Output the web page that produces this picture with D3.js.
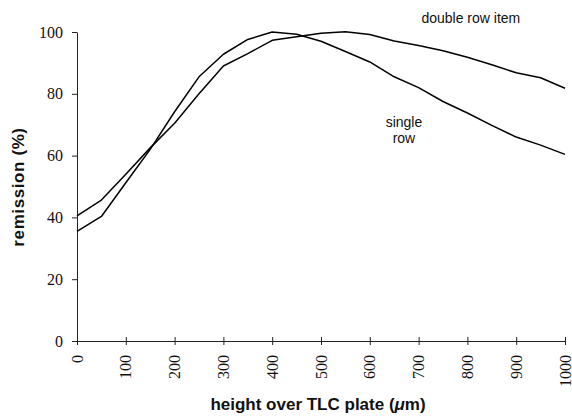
<!DOCTYPE html>
<html>
<head>
    <meta charset="utf-8">
    <title>Remission vs height over TLC plate</title>
    <script src="https://d3js.org/d3.v7.min.js"></script>
    <style>
        body {
            padding: 0;
            margin: 0;
            background: #fff;
        }

        .domain, .tick > line {
            stroke: #222;
            stroke-width: 1;
        }

        .tick text {
            font-family: "Liberation Serif", "Times New Roman", serif;
            font-size: 16px;
            fill: #111;
        }
    </style>
</head>
<body>
    <svg id="svg" width="572" height="416"></svg>

    <script>
        // Heights over the plate (um), one reading every 50 um.
        const heights = [0, 50, 100, 150, 200, 250, 300, 350, 400, 450, 500,
                         550, 600, 650, 700, 750, 800, 850, 900, 950, 1000];

        // Remission (%).
        const singleRow = [35.5, 40.3, 51.2, 62, 74.2, 85.5, 92.8, 97.6, 100, 99.3, 97,
                           93.7, 90.3, 85.5, 82, 77.5, 73.8, 69.8, 66, 63.4, 60.4];
        const doubleRow = [40.5, 45.6, 54, 62.5, 70.5, 80, 89, 93, 97.3, 98.5, 99.6,
                           100.1, 99.2, 97.1, 95.6, 93.9, 91.8, 89.4, 86.8, 85.2, 81.8];

        const xTicks = [0, 100, 200, 300, 400, 500, 600, 700, 800, 900, 1000];
        const yTicks = [0, 20, 40, 60, 80, 100];

        const xTitle = ["height over TLC plate (", "\u03bc", "m)"];
        const yTitle = "remission (%)";
        const doubleLabel = ["double row item"];
        const singleLabel = ["single", "row"];

        const svg = d3.select("svg");
        const margin = { top: 32, right: 7, bottom: 75, left: 77 };
        const width = +svg.attr("width") - margin.left - margin.right;
        const height = +svg.attr("height") - margin.top - margin.bottom;

        const x = d3.scaleLinear().domain([0, 1000]).range([0, width]);
        const y = d3.scaleLinear().domain([0, 100]).range([height, 0]);

        const g = svg.append("g")
            .attr("transform", `translate(${margin.left},${margin.top})`);

        // X axis: ticks cross the axis line, labels rotated.
        const xAxis = g.append("g")
            .attr("transform", `translate(0,${height})`)
            .call(d3.axisBottom(x).tickValues(xTicks).tickFormat(d3.format("d"))
                .tickSize(4).tickSizeOuter(0).tickPadding(0));
        xAxis.selectAll(".tick line").attr("y1", -4);
        xAxis.selectAll(".tick text")
            .attr("transform", "rotate(-90)")
            .attr("text-anchor", "end")
            .attr("x", -14)
            .attr("y", 0)
            .attr("dy", "0.32em");

        // Y axis.
        g.append("g")
            .call(d3.axisLeft(y).tickValues(yTicks).tickSize(5).tickSizeOuter(0).tickPadding(9));

        // Curves.
        const line = d3.line()
            .x((d, i) => x(heights[i]))
            .y(d => y(d));

        [singleRow, doubleRow].forEach(series => {
            g.append("path")
                .datum(series)
                .attr("fill", "none")
                .attr("stroke", "#000")
                .attr("stroke-width", 1.5)
                .attr("stroke-linejoin", "round")
                .attr("d", line);
        });

        // Curve labels.
        const labelFont = "'Liberation Sans', Arial, sans-serif";
        g.append("text")
            .attr("x", x(807))
            .attr("y", y(103))
            .attr("text-anchor", "middle")
            .attr("font-family", labelFont)
            .attr("font-size", 14)
            .attr("fill", "#111")
            .text(doubleLabel[0]);

        g.selectAll(".single-label")
            .data(singleLabel)
            .enter()
            .append("text")
                .attr("class", "single-label")
                .attr("x", x(670))
                .attr("y", (d, i) => y(69.3) + i * 16)
                .attr("text-anchor", "middle")
                .attr("font-family", labelFont)
                .attr("font-size", 14)
                .attr("fill", "#111")
                .text(d => d);

        // Axis titles.
        const xt = svg.append("text")
            .attr("x", margin.left + x(500) - 3)
            .attr("y", 410)
            .attr("text-anchor", "middle")
            .attr("font-family", labelFont)
            .attr("font-weight", "bold")
            .attr("font-size", 17)
            .attr("fill", "#111");
        xt.selectAll("tspan")
            .data(xTitle)
            .enter()
            .append("tspan")
                .attr("font-style", (d, i) => i === 1 ? "italic" : null)
                .text(d => d);

        svg.append("text")
            .attr("transform", "translate(24,187) rotate(-90)")
            .attr("text-anchor", "middle")
            .attr("font-family", labelFont)
            .attr("font-weight", "bold")
            .attr("font-size", 17)
            .attr("letter-spacing", "0.6px")
            .attr("fill", "#111")
            .text(yTitle);
    </script>
</body>
</html>
